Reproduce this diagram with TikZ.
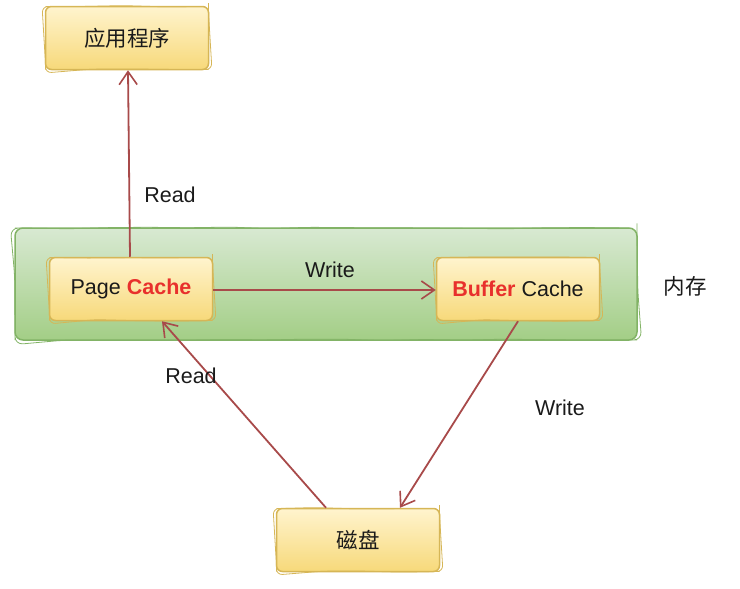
\documentclass[tikz,border=0pt]{standalone}
\usepackage{fontspec}
\setmainfont{Liberation Sans}
\newfontfamily\cjk{Noto Sans CJK SC}
\usetikzlibrary{arrows.meta,decorations.pathmorphing}
\definecolor{boxtop}{HTML}{FFF4CE}
\definecolor{boxbot}{HTML}{F7D97A}
\definecolor{boxline}{HTML}{D6B656}
\definecolor{memtop}{HTML}{D8E9D2}
\definecolor{membot}{HTML}{A3CE86}
\definecolor{memline}{HTML}{82B366}
\definecolor{arr}{HTML}{A84A4A}
\definecolor{redtxt}{HTML}{E8302C}
\definecolor{txt}{HTML}{1A1A1A}
\begin{document}
\begin{tikzpicture}[x=1pt,y=-1pt,
  sketch/.style={postaction={draw=#1, line width=0.8pt, decorate,
      decoration={random steps, segment length=40pt, amplitude=0.9pt}}},
  box/.style={draw=boxline, line width=1.5pt, rounded corners=6pt,
      top color=boxtop, bottom color=boxbot,
      minimum width=163pt, minimum height=63pt, inner sep=0pt,
      font=\fontsize{21.5}{25}\selectfont, text=txt, sketch=boxline},
  mem/.style={draw=memline, line width=1.5pt, rounded corners=8pt,
      top color=memtop, bottom color=membot, inner sep=0pt, sketch=memline},
  link/.style={draw=arr, line width=1.8pt,
      -{Straight Barb[length=13pt,width=18pt,line width=1.6pt]}},
  lbl/.style={font=\fontsize{21.5}{25}\selectfont, text=txt, inner sep=0pt}
]
\useasboundingbox (0,0) rectangle (740,589);
\node[mem, minimum width=622pt, minimum height=112pt] (mem) at (326,284) {};
\node[lbl] (memlbl) at (685,286) {\cjk 内存};
\node[box] (app) at (127,38) {\cjk 应用程序};
\node[box] (page) at (131,289) {Page \textcolor{redtxt}{\textbf{Cache}}};
\node[box] (buf) at (518,289) {\textcolor{redtxt}{\textbf{Buffer}} Cache};
\node[box] (disk) at (358,540) {\cjk 磁盘};
\draw[link] ([xshift=-1pt]page.north) -- ([xshift=1pt]app.south);
\draw[link] ([yshift=-1pt]page.east) -- ([yshift=-1pt]buf.west);
\draw[link] ([xshift=-32pt]disk.north) -- ([xshift=31pt]page.south);
\draw[link] (buf.south) -- ([xshift=42pt]disk.north);
\node[lbl] (r1) at (170,195) {Read};
\node[lbl] (w1) at (330,270) {Write};
\node[lbl] (r2) at (191,376) {Read};
\node[lbl] (w2) at (560,408) {Write};
\end{tikzpicture}
\end{document}
